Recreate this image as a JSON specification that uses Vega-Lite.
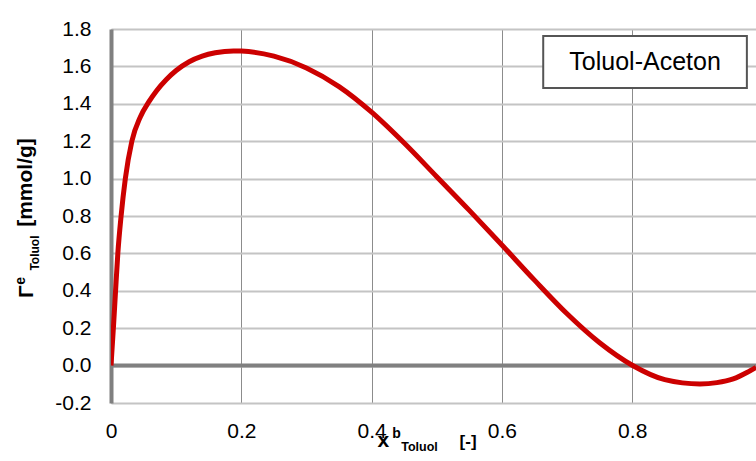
{
  "$schema": "https://vega.github.io/schema/vega-lite/v6.json",
  "width": 645,
  "height": 374,
  "autosize": "none",
  "padding": {"left": 111, "top": 29, "right": 0, "bottom": 58},
  "background": "white",
  "config": {
    "view": {"stroke": null},
    "font": "Liberation Sans",
    "axisY": {
      "tickCount": 20,
      "labelExpr": "replace(format(datum.value, '.1f'), '\u2212', '-')",
      "labelFontSize": 21, "labelColor": "#000000", "labelFont": "Liberation Sans",
      "labelOverlap": false, "labelFlush": false,
      "ticks": false, "tickSize": 0,
      "grid": true, "gridColor": "#c4c4c4", "gridWidth": 2,
      "domain": true, "domainColor": "#808080", "domainWidth": 4,
      "labelPadding": 20, "title": null
    },
    "axisX": {
      "tickCount": 20,
      "labelFontSize": 21, "labelColor": "#000000", "labelFont": "Liberation Sans",
      "labelOverlap": false, "labelFlush": false,
      "ticks": false, "tickSize": 0,
      "grid": true, "gridColor": "#8c8c8c", "gridWidth": 1,
      "domain": false, "labelPadding": 17, "title": null
    }
  },
  "datasets": {
    "curve": [
      {"x": 0.000, "y": 0.000},
      {"x": 0.004, "y": 0.220},
      {"x": 0.007, "y": 0.400},
      {"x": 0.0105, "y": 0.600},
      {"x": 0.0155, "y": 0.800},
      {"x": 0.022, "y": 1.000},
      {"x": 0.032, "y": 1.200},
      {"x": 0.045, "y": 1.330},
      {"x": 0.058, "y": 1.410},
      {"x": 0.070, "y": 1.470},
      {"x": 0.085, "y": 1.530},
      {"x": 0.100, "y": 1.578},
      {"x": 0.120, "y": 1.625},
      {"x": 0.140, "y": 1.655},
      {"x": 0.160, "y": 1.673},
      {"x": 0.188, "y": 1.683},
      {"x": 0.200, "y": 1.682},
      {"x": 0.250, "y": 1.655},
      {"x": 0.300, "y": 1.592},
      {"x": 0.350, "y": 1.492},
      {"x": 0.400, "y": 1.355},
      {"x": 0.450, "y": 1.190},
      {"x": 0.500, "y": 1.010},
      {"x": 0.550, "y": 0.830},
      {"x": 0.600, "y": 0.645},
      {"x": 0.650, "y": 0.457},
      {"x": 0.700, "y": 0.277},
      {"x": 0.750, "y": 0.122},
      {"x": 0.800, "y": 0.002},
      {"x": 0.850, "y": -0.075},
      {"x": 0.904, "y": -0.098},
      {"x": 0.930, "y": -0.091},
      {"x": 0.955, "y": -0.071},
      {"x": 0.976, "y": -0.037},
      {"x": 0.990, "y": -0.009}
    ]
  },
  "layer": [
    {
      "data": {"values": [{}]},
      "mark": {"type": "rule", "color": "#808080", "strokeWidth": 4},
      "encoding": {
        "y": {"datum": 0, "type": "quantitative",
          "scale": {"domain": [-0.2, 1.8], "nice": false, "zero": false},
          "axis": {"values": [-0.2, 0, 0.2, 0.4, 0.6, 0.8, 1.0, 1.2, 1.4, 1.6, 1.8], "tickCount": 20}}
      }
    },
    {
      "data": {"name": "curve"},
      "mark": {"type": "line", "color": "#cc0000", "strokeWidth": 5, "interpolate": "monotone", "clip": true},
      "encoding": {
        "x": {"field": "x", "type": "quantitative",
          "scale": {"domain": [0, 0.99], "nice": false, "zero": false},
          "axis": {"values": [0, 0.2, 0.4, 0.6, 0.8], "tickCount": 20,
            "labelExpr": "datum.value == 0 ? '0' : format(datum.value, '.1f')"}},
        "y": {"field": "y", "type": "quantitative",
          "axis": {"values": [-0.2, 0, 0.2, 0.4, 0.6, 0.8, 1.0, 1.2, 1.4, 1.6, 1.8], "tickCount": 20}}
      }
    },
    {
      "data": {"values": [{}]},
      "mark": {"type": "rect", "fill": "white", "stroke": "#555555", "strokeWidth": 2},
      "encoding": {
        "x": {"datum": 0.6634, "type": "quantitative"}, "x2": {"datum": 0.976},
        "y": {"datum": 1.763, "type": "quantitative"}, "y2": {"datum": 1.485}
      }
    },
    {
      "data": {"values": [{}]},
      "mark": {"type": "text", "text": "Toluol-Aceton", "fontSize": 25, "align": "center", "baseline": "middle", "color": "#000000"},
      "encoding": {"x": {"datum": 0.8197, "type": "quantitative"}, "y": {"datum": 1.624, "type": "quantitative"}}
    },
    {
      "data": {"values": [{}]},
      "mark": {"type": "text", "text": "x", "fontSize": 21, "fontWeight": "bold", "align": "left", "baseline": "alphabetic", "color": "#000000"},
      "encoding": {"x": {"datum": 0.409, "type": "quantitative"}, "y": {"datum": -0.433, "type": "quantitative"}}
    },
    {
      "data": {"values": [{}]},
      "mark": {"type": "text", "text": "b", "fontSize": 14, "fontWeight": "bold", "align": "left", "baseline": "alphabetic", "color": "#000000"},
      "encoding": {"x": {"datum": 0.4315, "type": "quantitative"}, "y": {"datum": -0.388, "type": "quantitative"}}
    },
    {
      "data": {"values": [{}]},
      "mark": {"type": "text", "text": "Toluol", "fontSize": 12.5, "fontWeight": "bold", "align": "left", "baseline": "alphabetic", "color": "#000000"},
      "encoding": {"x": {"datum": 0.4455, "type": "quantitative"}, "y": {"datum": -0.456, "type": "quantitative"}}
    },
    {
      "data": {"values": [{}]},
      "mark": {"type": "text", "text": "[-]", "fontSize": 17, "fontWeight": "bold", "align": "left", "baseline": "alphabetic", "color": "#000000"},
      "encoding": {"x": {"datum": 0.535, "type": "quantitative"}, "y": {"datum": -0.435, "type": "quantitative"}}
    },
    {
      "data": {"values": [{}]},
      "mark": {"type": "text", "text": "Γ", "fontSize": 21, "fontWeight": "bold", "angle": 270, "align": "left", "baseline": "alphabetic", "color": "#000000"},
      "encoding": {"x": {"datum": -0.119, "type": "quantitative"}, "y": {"datum": 0.362, "type": "quantitative"}}
    },
    {
      "data": {"values": [{}]},
      "mark": {"type": "text", "text": "e", "fontSize": 14, "fontWeight": "bold", "angle": 270, "align": "left", "baseline": "alphabetic", "color": "#000000"},
      "encoding": {"x": {"datum": -0.1317, "type": "quantitative"}, "y": {"datum": 0.432, "type": "quantitative"}}
    },
    {
      "data": {"values": [{}]},
      "mark": {"type": "text", "text": "Toluol", "fontSize": 12, "fontWeight": "bold", "angle": 270, "align": "left", "baseline": "alphabetic", "color": "#000000"},
      "encoding": {"x": {"datum": -0.111, "type": "quantitative"}, "y": {"datum": 0.508, "type": "quantitative"}}
    },
    {
      "data": {"values": [{}]},
      "mark": {"type": "text", "text": "[mmol/g]", "fontSize": 21, "fontWeight": "bold", "angle": 270, "align": "left", "baseline": "alphabetic", "color": "#000000"},
      "encoding": {"x": {"datum": -0.121, "type": "quantitative"}, "y": {"datum": 0.742, "type": "quantitative"}}
    }
  ]
}
